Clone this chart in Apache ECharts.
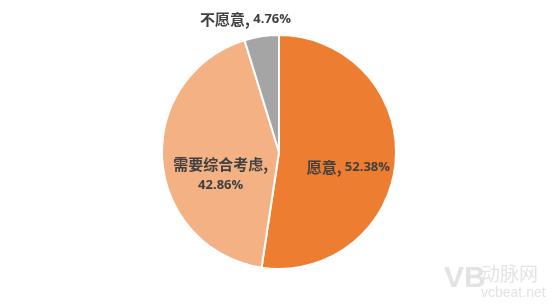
<!DOCTYPE html>
<html>
<head>
<meta charset="utf-8">
<script src="https://cdn.jsdelivr.net/npm/echarts@6/dist/echarts.min.js"></script>
<style>
  html, body { margin: 0; padding: 0; background: #fff; }
  #chart { width: 557px; height: 306px; }
</style>
</head>
<body>
<div id="chart"></div>
<script>
// Survey answers and their shares (%)
const categories = ['愿意', '需要综合考虑', '不愿意'];
const shares = [52.38, 42.86, 4.76];
const sliceColors = ['#ED7D31', '#F4B183', '#A5A5A5'];

const chart = echarts.init(document.getElementById('chart'));

const labelOffsets = [
  { dx: 8, dy: 11 },
  { dx: 3, dy: 18 },
  { dx: 35, dy: -13 }
];

chart.setOption({
  animation: false,
  backgroundColor: '#fff',
  series: [{
    type: 'pie',
    center: [279, 152],
    radius: 117,
    startAngle: 90,
    clockwise: true,
    itemStyle: { borderColor: '#fff', borderWidth: 2 },
    label: {
      position: 'inside',
      formatter: p => '{a|' + p.name + ',}' + (p.name.length > 4 ? '\n' : ' ') + '{n|' + p.value.toFixed(2) + '%}',
      lineHeight: 21,
      rich: {
        a: { fontFamily: 'Noto Sans CJK SC', fontWeight: 'bold', fontSize: 15, color: '#404040', lineHeight: 21 },
        n: { fontFamily: 'Open Sans', fontWeight: 'bold', fontSize: 13, color: '#404040', lineHeight: 21 }
      }
    },
    labelLayout: p => labelOffsets[p.dataIndex],
    data: categories.map((name, i) => {
      const item = { name, value: shares[i], itemStyle: { color: sliceColors[i] } };
      if (i === 2) {
        item.label = { position: 'outside' };
        item.labelLine = { show: false, length: 4, length2: 0 };
      }
      return item;
    })
  }],
  graphic: [
    {
      type: 'text', left: 444, top: 264,
      style: { text: 'VB', fontFamily: 'Liberation Sans', fontWeight: 'bold', fontSize: 30, fill: '#e3e3e3' }
    },
    {
      type: 'text', left: 481, top: 264,
      style: { text: '动脉网', fontFamily: 'Noto Sans CJK SC', fontSize: 19, fill: '#e3e3e3' }
    },
    {
      type: 'text', left: 481, top: 286,
      style: { text: 'vcbeat.net', fontFamily: 'Liberation Sans', fontSize: 14, fill: '#e3e3e3' }
    }
  ]
});
</script>
</body>
</html>
